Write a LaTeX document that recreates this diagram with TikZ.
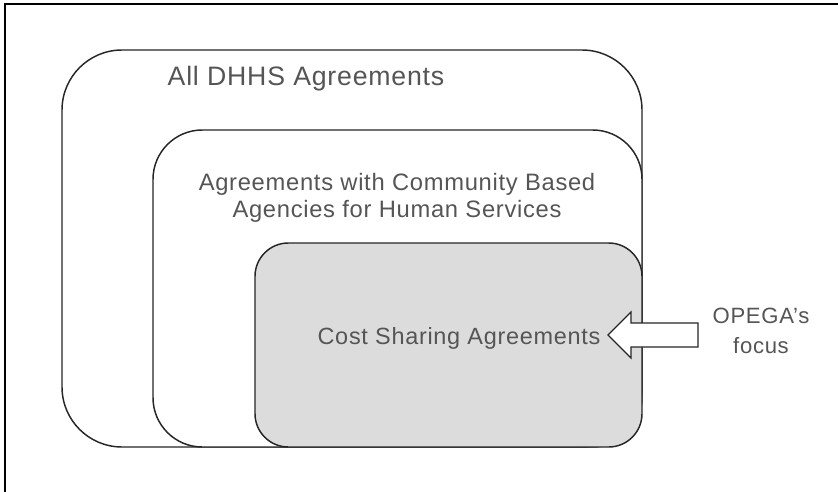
\documentclass[tikz,border=0pt]{standalone}
\usepackage{fontspec}
\setmainfont[LetterSpace=3]{Liberation Sans}
\definecolor{boxgray}{HTML}{DCDCDC}
\definecolor{textgray}{HTML}{555555}
\tikzset{
  every picture/.append style={x=0.75pt,y=-0.75pt},
  setbox/.style={draw=black!85, line width=1.1pt},
  setlabel/.style={text=textgray, align=center, inner sep=0pt},
}

\begin{document}
\begin{tikzpicture}
  \useasboundingbox (0,0) rectangle (838,492);
  % frame (only top and left show)
  \draw[line width=1.8pt] (5,492) -- (5,4) -- (838,4);
  % nested sets
  \draw[setbox, fill=white, rounded corners=45pt] (62,447) rectangle (642,50);
  \draw[setbox, fill=white, rounded corners=37pt] (153,447) rectangle (642,130);
  \draw[setbox, fill=boxgray, rounded corners=25pt] (255,447) rectangle (642,243);
  \node[setlabel, font=\fontsize{20}{22}\selectfont] (all) at (306,79) {All DHHS Agreements};
  \node[setlabel, font=\fontsize{17.8}{20.3}\selectfont] (cba) at (397,198) {Agreements with Community Based\\Agencies for Human Services};
  \node[setlabel, font=\fontsize{17.6}{20}\selectfont] (cost) at (459,338) {Cost Sharing Agreements};
  \node[setlabel, font=\fontsize{16.6}{22.5}\selectfont] (focus) at (761,331) {OPEGA’s\\focus};
  % block arrow
  \draw[setbox, fill=white, line width=0.9pt]
    (608,335) -- (631,312) -- (631,323) -- (698,323) -- (698,347)
    -- (631,347) -- (631,358) -- cycle;
\end{tikzpicture}
\end{document}
